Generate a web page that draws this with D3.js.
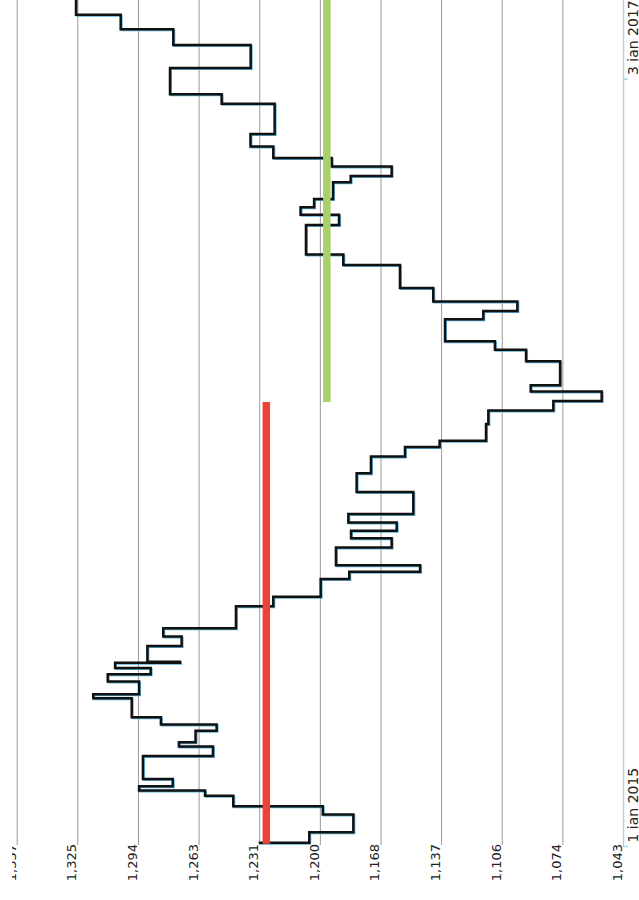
<!DOCTYPE html>
<html>
<head>
<meta charset="utf-8">
<script src="https://cdn.jsdelivr.net/npm/d3@7"></script>
<style>
  html, body { margin: 0; padding: 0; background: #fff; }
  svg { display: block; }
</style>
</head>
<body>
<div id="app"></div>
<script>
// days counted from 1 ian 2015, value at the start of each step
const days = [3, 4, 14, 31, 39, 49, 54, 58, 65, 87, 96, 100, 111, 117, 124, 142, 146, 158, 165, 171,
  176, 177, 192, 201, 209, 230, 239, 256, 263, 269, 286, 295, 302, 310, 318, 339, 357, 373, 382, 388,
  404, 417, 426, 435, 441, 464, 475, 483, 504, 512, 521, 534, 556, 566, 594, 604, 611, 619, 635, 641,
  650, 658, 669, 681, 710, 719, 744, 766, 781, 795, 830];
const values = [1230.8, 1205.3, 1182.5, 1198.3, 1244.6, 1259.2, 1293.3, 1275.9, 1291.3, 1255.1,
  1272.7, 1264.1, 1253.2, 1282.0, 1297.1, 1317.0, 1293.3, 1309.5, 1287.3, 1305.7,
  1272.1, 1289.0, 1271.3, 1280.8, 1243.2, 1223.9, 1199.4, 1184.6, 1148.0, 1191.5,
  1162.7, 1183.7, 1160.1, 1185.1, 1151.5, 1180.8, 1173.4, 1155.8, 1137.9, 1113.9,
  1112.7, 1079.1, 1054.1, 1090.8, 1075.6, 1093.2, 1109.3, 1135.1, 1115.3, 1097.7,
  1141.2, 1158.4, 1187.7, 1207.0, 1189.9, 1209.8, 1202.8, 1193.0, 1183.9, 1162.7,
  1193.7, 1223.9, 1235.7, 1223.2, 1250.6, 1277.3, 1235.6, 1275.6, 1302.8, 1325.9, 1325.9];

// average lines over two periods
const meanFrom = [3, 425];
const meanTo = [425, 830];
const meanValue = [1227.5, 1196.2];

const valueTicks = [1043.07, 1074.42, 1105.77, 1137.12, 1168.47, 1199.82, 1231.17, 1262.52, 1293.87, 1325.22, 1356.57];
const valueLabels = ['1,043', '1,074', '1,106', '1,137', '1,168', '1,200', '1,231', '1,263', '1,294', '1,325', '1,357'];
const dateTicks = ['2015-01-01', '2017-01-03'];
const dateLabels = ['1 ian 2015', '3 ian 2017'];

const width = 900;   // chart drawn lying on its side
const height = 639;
const start = new Date(2015, 0, 1);
const toDate = d => d3.timeDay.offset(start, d);
const parse = d3.timeParse('%Y-%m-%d');

const points = days.map((d, i) => ({ date: toDate(d), value: values[i] }));

const svg = d3.select('#app').append('svg')
  .attr('width', height)
  .attr('height', width)
  .style('font-family', '"DejaVu Sans", sans-serif');

const g = svg.append('g')
  .attr('transform', `translate(0, ${width}) rotate(-90)`);

const x = d3.scaleTime()
  .domain([start, new Date(2017, 2, 20)])
  .range([53, width]);

const y = d3.scaleLinear()
  .domain([valueTicks[0], valueTicks[valueTicks.length - 1]])
  .range([623, 16.7]);

// grid + value labels (top label is cut off in the original)
const clip = svg.append('defs').append('clipPath').attr('id', 'lblclip');
clip.append('rect').attr('x', -60).attr('y', 12).attr('width', width + 60).attr('height', height);

const yAxis = d3.axisLeft(y)
  .tickValues(valueTicks)
  .tickFormat((d, i) => valueLabels[i])
  .tickSize(-(width - 55))
  .tickSizeOuter(0);

const yg = g.append('g')
  .attr('transform', 'translate(55, 0)')
  .attr('clip-path', 'url(#lblclip)')
  .call(yAxis);
yg.select('.domain').remove();
yg.selectAll('.tick line').attr('stroke', '#9a9a9a');
yg.selectAll('.tick text')
  .attr('x', 1)
  .attr('dy', -1.5)
  .attr('fill', '#222')
  .style('font-size', '13px')
  .style('font-family', '"DejaVu Sans", sans-serif');

// time axis
const xAxis = d3.axisBottom(x)
  .tickValues(dateTicks.map(parse))
  .tickFormat((d, i) => dateLabels[i])
  .tickSize(5)
  .tickSizeOuter(0);

const xg = g.append('g')
  .attr('transform', 'translate(0, 623)')
  .call(xAxis);
xg.select('.domain').attr('stroke', '#a6d6ef').attr('stroke-width', 1.5);
xg.selectAll('.tick line').attr('stroke', '#a6d6ef').attr('stroke-width', 1.5);
xg.selectAll('.tick text')
  .attr('text-anchor', 'start')
  .attr('x', 4)
  .attr('y', 15)
  .attr('dy', 0)
  .attr('fill', '#222')
  .style('font-size', '14px')
  .style('font-family', '"DejaVu Sans", sans-serif');

const line = d3.line()
  .x(d => x(d.date))
  .y(d => y(d.value))
  .curve(d3.curveStepAfter);

g.append('path')
  .datum(points)
  .attr('transform', 'translate(-1, 1)')
  .attr('fill', 'none')
  .attr('stroke', '#5ab2d8')
  .attr('stroke-width', 2)
  .attr('d', line);

g.append('path')
  .datum(points)
  .attr('fill', 'none')
  .attr('stroke', '#111')
  .attr('stroke-width', 2.5)
  .attr('d', line);

const meanColors = ['#ee4236', '#a8d16b'];
g.selectAll('.mean')
  .data(meanValue)
  .enter().append('line')
  .attr('class', 'mean')
  .attr('x1', (d, i) => x(toDate(meanFrom[i])))
  .attr('x2', (d, i) => x(toDate(meanTo[i])))
  .attr('y1', d => y(d))
  .attr('y2', d => y(d))
  .attr('stroke', (d, i) => meanColors[i])
  .attr('stroke-width', 7.5);
</script>
</body>
</html>
